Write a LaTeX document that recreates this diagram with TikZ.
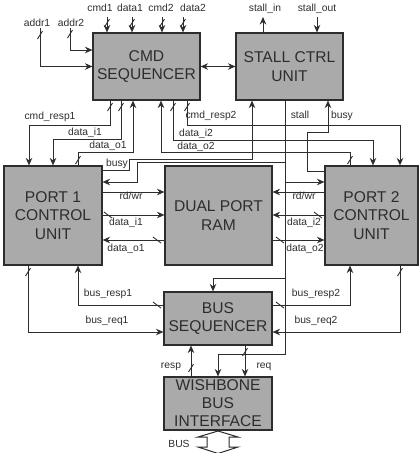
\documentclass[tikz,border=0pt]{standalone}
\usepackage{fontspec}
\setmainfont{Liberation Sans}
\usetikzlibrary{arrows.meta,calc}
\definecolor{boxgray}{RGB}{170,170,170}
\definecolor{ink}{RGB}{45,45,45}
\tikzset{
 blk/.style={draw=ink, fill=boxgray, line width=1.1pt, align=center, inner sep=0pt, font=\fontsize{15.6}{18.5}\selectfont, text=ink},
 lbl/.style={font=\fontsize{10.3}{12}\selectfont, text=ink, inner sep=0pt, anchor=base},
 wire/.style={draw=ink, line width=1pt},
 arr/.style={wire, -{Stealth[length=7.5pt,width=6.5pt]}},
 arrtwo/.style={wire, {Stealth[length=7.5pt,width=6.5pt]}-{Stealth[length=7.5pt,width=6.5pt]}},
 vslash/.pic={\draw[ink, line width=0.9pt] (-2.5,4) -- (2.5,-4);},
 hslash/.pic={\draw[ink, line width=0.9pt] (-4,-3) -- (4,3);},
}
\begin{document}
\begin{tikzpicture}[x=1pt,y=-1pt]
\useasboundingbox (0,0) rectangle (420,453);
% blocks
\node[blk, minimum width=107pt, minimum height=67pt] (cmd) at (146.5,66.5) {CMD\\SEQUENCER};
\node[blk, minimum width=107pt, minimum height=67pt] (stall) at (289.5,66.5) {STALL CTRL\\UNIT};
\node[blk, minimum width=98pt, minimum height=99pt] (p1) at (53,215.5) {PORT 1\\CONTROL\\UNIT};
\node[blk, minimum width=107pt, minimum height=99pt] (ram) at (218.5,215.5) {DUAL PORT\\RAM};
\node[blk, minimum width=93pt, minimum height=99pt] (p2) at (371.5,215.5) {PORT 2\\CONTROL\\UNIT};
\node[blk, minimum width=108pt, minimum height=53pt] (bseq) at (218,318.5) {BUS\\SEQUENCER};
\node[blk, minimum width=108pt, minimum height=53pt, font=\fontsize{15.6}{18}\selectfont] (wb) at (218,403.5) {WISHBONE\\BUS\\INTERFACE};

% free ends
\coordinate (a1) at (40,28);
\coordinate (a2) at (70,28);
\coordinate (c1) at (107,17);
\coordinate (d1) at (132,17);
\coordinate (c2) at (162,17);
\coordinate (d2) at (183,17);
\coordinate (si) at (263,17);
\coordinate (so) at (317,17);
\coordinate (j1) at (285,162);
\coordinate (j2) at (285,182);
\coordinate (j3) at (285,278);

% top inputs
\draw[arr] (a1) |- (cmd.west);
\draw[arr] (a2) |- (cmd.west |- 0,50);
\draw[arr] (c1) -- (c1 |- cmd.north);
\draw[arr] (d1) -- (d1 |- cmd.north);
\draw[arr] (c2) -- (c2 |- cmd.north);
\draw[arr] (d2) -- (d2 |- cmd.north);
\draw[arr] (si |- stall.north) -- (si);
\draw[arr] (so) -- (so |- stall.north);
\draw[arrtwo] (cmd.east) -- (stall.west);

% cmd to ports
\draw[arr] (110,0 |- cmd.south) |- (29,125) -- (29,0 |- p1.north);
\draw[arr] (121,0 |- cmd.south) |- (53,139) -- (53,0 |- p1.north);
\draw[arr] (78,0 |- p1.north) |- (133,152) -- (133,0 |- cmd.south);
\draw[arr] (187,0 |- cmd.south) |- (400,125) -- (400,0 |- p2.north);
\draw[arr] (173,0 |- cmd.south) |- (373,140) -- (373,0 |- p2.north);
\draw[arr] (350,0 |- p2.north) |- (161,152) -- (161,0 |- cmd.south);

% busy
\draw[arr] (p1.east |- 0,170) -- (129,170) |- (252,159) -- (252,0 |- stall.south);
\draw[arr] (p2.west |- 0,171) -- (307,171) |- (328,132) -- (328,0 |- stall.south);

% stall
\draw[arr] (285,0 |- stall.south) -- (285,354) -| (wb.north);
\draw[arr] (j1) -| (137,182) -- (p1.east |- j2);
\draw[arr] (j2) -- (p2.west |- j2);
\draw[arr] (j3) -| (213,0 |- bseq.north);

% ram
\draw[arr] (p1.east |- 0,192) -- (ram.west |- 0,192);
\draw[arr] (p1.east |- 0,215) -- (ram.west |- 0,215);
\draw[arr] (ram.west |- 0,240) -- (p1.east |- 0,240);
\draw[arr] (p2.west |- 0,192) -- (ram.east |- 0,192);
\draw[arr] (p2.west |- 0,215) -- (ram.east |- 0,215);
\draw[arr] (ram.east |- 0,240) -- (p2.west |- 0,240);

% bus
\draw[arr] (28,0 |- p1.south) |- (bseq.west |- 0,332);
\draw[arr] (bseq.west |- 0,305) -| (78,0 |- p1.south);
\draw[arr] (bseq.east |- 0,305) -| (350,0 |- p2.south);
\draw[arr] (400,0 |- p2.south) |- (bseq.east |- 0,332);
\draw[arr] (191,0 |- wb.north) -- (191,0 |- bseq.south);
\draw[arr] (245,0 |- bseq.south) -- (245,0 |- wb.north);

% BUS arrow
\draw[ink, line width=1pt, fill=white] (218,431) -- (198,437) -- (207,437) -- (207,447) -- (198,447) -- (218,453.5) -- (238,447) -- (229,447) -- (229,437) -- (238,437) -- cycle;

% slashes
\foreach \p in {(40,35),(70,34),(107,23),(132,23),(162,23),(183,23),(110,107),(121,107),(187,107),(173,107),(78,160),(350,160),(28,272),(400,272),(191,368),(245,352)}
  \pic at \p {vslash};
\foreach \p in {(108,215),(157,240),(318,215),(280,240),(157,305),(280,305)}
  \pic at \p {hslash};

% labels
\node[lbl] (l1) at (37,26.5) {addr1};
\node[lbl] (l2) at (71,26.5) {addr2};
\node[lbl] (l3) at (100,11.5) {cmd1};
\node[lbl] (l4) at (130,11.5) {data1};
\node[lbl] (l5) at (161,11.5) {cmd2};
\node[lbl] (l6) at (193,11.5) {data2};
\node[lbl] (l7) at (265,11.5) {stall\_in};
\node[lbl] (l8) at (317,11.5) {stall\_out};
\node[lbl] (l9) at (50,119.5) {cmd\_resp1};
\node[lbl] (l10) at (85,135.5) {data\_i1};
\node[lbl] (l11) at (108,148.5) {data\_o1};
\node[lbl] (l12) at (117,166) {busy};
\node[lbl] (l13) at (211,118.5) {cmd\_resp2};
\node[lbl] (l14) at (196,136.5) {data\_i2};
\node[lbl] (l15) at (196,149.5) {data\_o2};
\node[lbl] (l16) at (300,118.5) {stall};
\node[lbl] (l17) at (342,118.5) {busy};
\node[lbl] (l18) at (131,199) {rd/wr};
\node[lbl] (l19) at (126,225.5) {data\_i1};
\node[lbl] (l20) at (126,251.5) {data\_o1};
\node[lbl] (l21) at (304,199) {rd/wr};
\node[lbl] (l22) at (304,225.5) {data\_i2};
\node[lbl] (l23) at (305,251.5) {data\_o2};
\node[lbl] (l24) at (108,296.5) {bus\_resp1};
\node[lbl] (l25) at (107,323.5) {bus\_req1};
\node[lbl] (l26) at (316,296.5) {bus\_resp2};
\node[lbl] (l27) at (316,323.5) {bus\_req2};
\node[lbl] (l28) at (171,368.5) {resp};
\node[lbl] (l29) at (264,368.5) {req};
\node[lbl] (l30) at (179,447.5) {BUS};
\end{tikzpicture}
\end{document}
